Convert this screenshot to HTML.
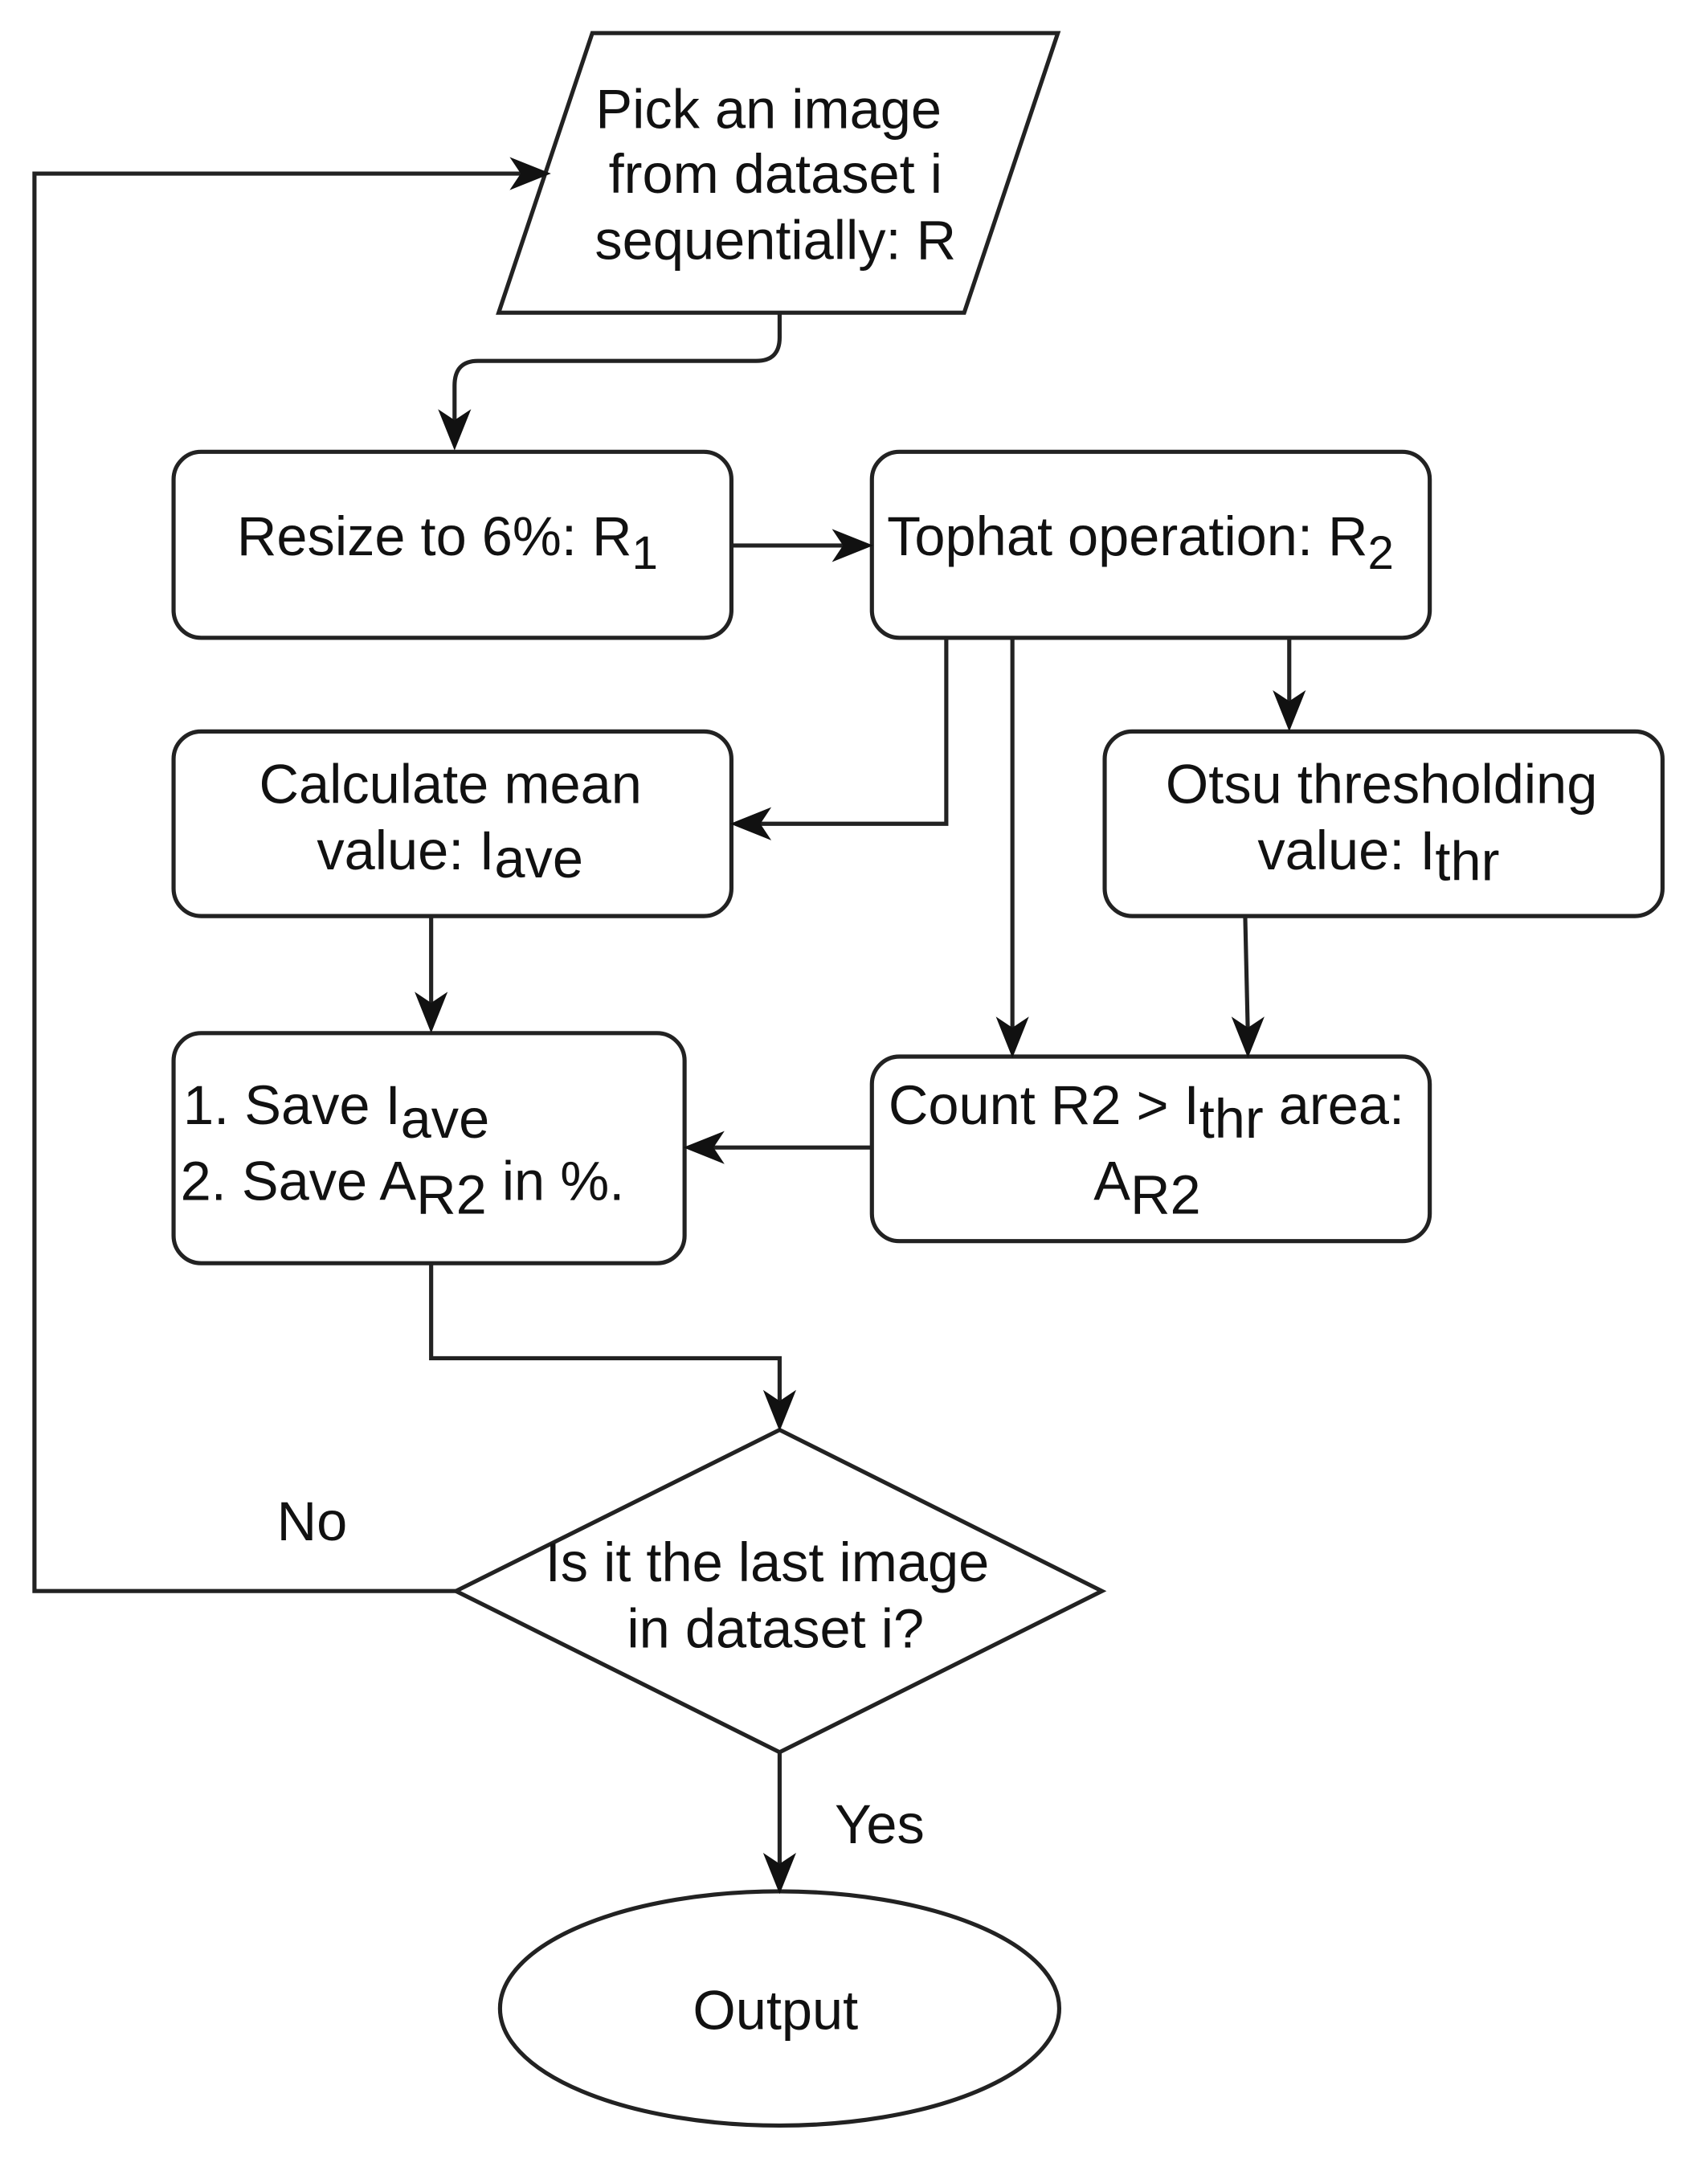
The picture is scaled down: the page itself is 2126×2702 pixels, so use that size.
<!DOCTYPE html>
<html><head><meta charset="utf-8">
<style>
html,body{margin:0;padding:0;background:#fff;}
svg{display:block;}
text{font-family:"Liberation Sans",Arial,sans-serif;fill:#111;}
</style></head>
<body>
<svg width="2126" height="2702" viewBox="0 0 1240 1576" xmlns="http://www.w3.org/2000/svg">
<g fill="none" stroke="#222" stroke-width="3">
<polygon points="430,24 768,24 700,227 362,227"/>
<rect x="126" y="328" width="405" height="135" rx="20"/>
<rect x="633" y="328" width="405" height="135" rx="20"/>
<rect x="126" y="531" width="405" height="134" rx="20"/>
<rect x="802" y="531" width="405" height="134" rx="20"/>
<rect x="126" y="750" width="371" height="167" rx="20"/>
<rect x="633" y="767" width="405" height="134" rx="20"/>
<polygon points="566,1038 800,1155 566,1272 331,1155"/>
<ellipse cx="566" cy="1458" rx="203" ry="85"/>
<path d="M566,227 V245 Q566,262 549,262 H347 Q330,262 330,280 V312"/>
<path d="M531,396 H618"/>
<path d="M687,463 V598 H546"/>
<path d="M735,463 V752"/>
<path d="M936,463 V516"/>
<path d="M313,665 V734"/>
<path d="M904,665 L906,752"/>
<path d="M633,833 H512"/>
<path d="M313,917 V986 H566 V1022"/>
<path d="M331,1155 H25 V126 H383"/>
<path d="M566,1272 V1358"/>
</g>
<g fill="#111">
<polygon points="330,327 318,297 330,305 342,297"/>
<polygon points="634,396 604,384 612,396 604,408"/>
<polygon points="530,598 560,586 552,598 560,610"/>
<polygon points="735,768 723,738 735,746 747,738"/>
<polygon points="936,531 924,501 936,509 948,501"/>
<polygon points="313,750 301,720 313,728 325,720"/>
<polygon points="906,768 894,738 906,746 918,738"/>
<polygon points="496,833 526,821 518,833 526,845"/>
<polygon points="566,1039 554,1009 566,1017 578,1009"/>
<polygon points="400,126 370,114 378,126 370,138"/>
<polygon points="566,1375 554,1345 566,1353 578,1345"/>
</g>
<g font-size="40">
<text x="558" y="93" text-anchor="middle">Pick an image</text>
<text x="563" y="140" text-anchor="middle">from dataset i</text>
<text x="563" y="188" text-anchor="middle">sequentially: R</text>
<text x="172" y="403">Resize to 6%: R<tspan font-size="34" dy="10">1</tspan></text>
<text x="644" y="403">Tophat operation: R<tspan font-size="34" dy="10">2</tspan></text>
<text x="327" y="583" text-anchor="middle">Calculate mean</text>
<text x="230" y="631">value: I<tspan dy="6">ave</tspan></text>
<text x="1003" y="583" text-anchor="middle">Otsu thresholding</text>
<text x="913" y="631">value: I<tspan dy="8">thr</tspan></text>
<text x="133" y="816">1. Save I<tspan dy="10">ave</tspan></text>
<text x="131" y="871">2. Save A<tspan dy="10">R2</tspan><tspan dy="-10"> in %.</tspan></text>
<text x="645" y="816">Count R2 &gt; I<tspan dy="10">thr</tspan><tspan dy="-10"> area:</tspan></text>
<text x="794" y="871">A<tspan dy="10">R2</tspan></text>
<text x="557" y="1148" text-anchor="middle">Is it the last image</text>
<text x="563" y="1196" text-anchor="middle">in dataset i?</text>
<text x="201" y="1118">No</text>
<text x="606" y="1338">Yes</text>
<text x="563" y="1473" text-anchor="middle">Output</text>
</g>
</svg>
</body></html>
